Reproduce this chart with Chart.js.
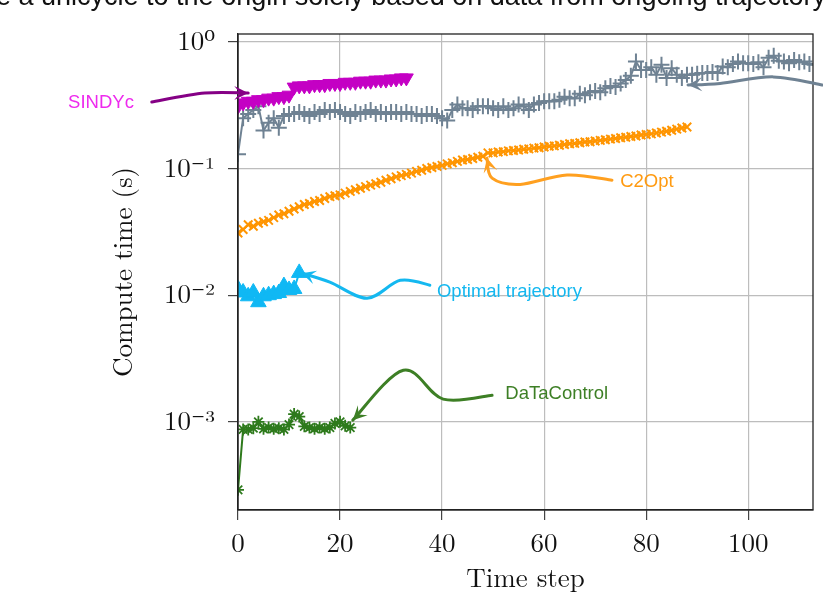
<!DOCTYPE html>
<html lang="en">
<head>
<meta charset="UTF-8">
<title>Compute time per time step</title>
<script src="https://cdn.jsdelivr.net/npm/chart.js"></script>
<style>
  html, body { margin: 0; padding: 0; background: #fff; }
  #wrap { position: relative; width: 823px; height: 595px; overflow: hidden; }
</style>
<script>
// compute time (s) per time step, one value per step starting at 0
const sindycTime = [0.31, 0.33, 0.34, 0.34, 0.35, 0.35, 0.36, 0.36, 0.37, 0.37, 0.38,
  0.44, 0.45, 0.45, 0.45, 0.46, 0.46, 0.46, 0.47, 0.47, 0.47, 0.48, 0.48, 0.48,
  0.49, 0.49, 0.49, 0.50, 0.50, 0.50, 0.51, 0.51, 0.52, 0.52];

const otherTime = [0.13, 0.25, 0.27, 0.29, 0.31, 0.20, 0.23, 0.25, 0.21, 0.26,
  0.27, 0.27, 0.28, 0.27, 0.26, 0.28, 0.27, 0.29, 0.28, 0.29,
  0.28, 0.27, 0.26, 0.28, 0.27, 0.28, 0.29, 0.27, 0.28, 0.27,
  0.28, 0.28, 0.27, 0.28, 0.27, 0.27, 0.26, 0.27, 0.27, 0.26,
  0.25, 0.24, 0.29, 0.32, 0.30, 0.30, 0.29, 0.31, 0.31, 0.31,
  0.30, 0.29, 0.31, 0.29, 0.30, 0.32, 0.31, 0.29, 0.32, 0.33,
  0.34, 0.34, 0.34, 0.35, 0.37, 0.36, 0.36, 0.39, 0.38, 0.40,
  0.41, 0.40, 0.43, 0.45, 0.44, 0.47, 0.50, 0.54, 0.70, 0.60,
  0.60, 0.63, 0.55, 0.66, 0.52, 0.62, 0.55, 0.52, 0.55, 0.55,
  0.56, 0.57, 0.57, 0.58, 0.57, 0.64, 0.63, 0.67, 0.70, 0.68,
  0.68, 0.67, 0.69, 0.63, 0.75, 0.78, 0.71, 0.70, 0.68, 0.72,
  0.69, 0.70, 0.67, 0.66];

const c2optTime = [0.031, 0.033, 0.036, 0.035, 0.037, 0.038, 0.039, 0.041, 0.043, 0.044,
  0.046, 0.048, 0.050, 0.052, 0.053, 0.055, 0.056, 0.058, 0.060, 0.061,
  0.062, 0.064, 0.066, 0.068, 0.070, 0.072, 0.074, 0.076, 0.078, 0.081,
  0.083, 0.086, 0.088, 0.090, 0.092, 0.095, 0.097, 0.100, 0.102, 0.104,
  0.106, 0.109, 0.111, 0.114, 0.117, 0.118, 0.120, 0.123, 0.125, 0.133,
  0.133, 0.135, 0.136, 0.138, 0.139, 0.140, 0.142, 0.143, 0.145, 0.146,
  0.148, 0.150, 0.151, 0.153, 0.155, 0.157, 0.158, 0.160, 0.162, 0.163,
  0.165, 0.167, 0.169, 0.171, 0.173, 0.175, 0.177, 0.179, 0.181, 0.184,
  0.186, 0.188, 0.191, 0.194, 0.197, 0.201, 0.205, 0.209, 0.213];

const optimalTime = [0.0112, 0.0105, 0.0098, 0.0105, 0.0088, 0.0098, 0.0100, 0.0102,
  0.0104, 0.0118, 0.0110, 0.0112, 0.0150];

const datacontrolTime = [0.00029, 0.00087, 0.00087, 0.00089, 0.00100, 0.00088, 0.00090,
  0.00088, 0.00089, 0.00087, 0.00095, 0.00115, 0.00110, 0.00092, 0.00090, 0.00088,
  0.00090, 0.00088, 0.00090, 0.00097, 0.00100, 0.00093, 0.00090];

const yTicks = [0.001, 0.01, 0.1, 1];
const yTickLabels = ['10\u207B\u00B3', '10\u207B\u00B2', '10\u207B\u00B9', '10\u2070'];
const xTicks = [0, 20, 40, 60, 80, 100];

const captionText = 'e a unicycle to the origin solely based on data from ongoing trajectory,';

// curved arrows pointing at the series, path points in data coordinates (x, seconds)
const callouts = [
  { text: 'SINDYc', color: '#ee2aee', line: '#850085', at: [-33.3, 0.33],
    path: [[-16.9, 0.336], [-6.5, 0.395], [2.0, 0.395]] },
  { text: null, color: '#6f8293', line: '#6f8293', at: null,
    path: [[114.5, 0.457], [104.9, 0.53], [94.5, 0.47], [88.2, 0.457]] },
  { text: 'C2Opt', color: '#ff9a10', line: '#ffa020', at: [74.9, 0.078],
    path: [[73.3, 0.081], [64.5, 0.089], [55.3, 0.075], [49.8, 0.084], [48.8, 0.121]] },
  { text: 'Optimal trajectory', color: '#14b8f0', line: '#14b8f0', at: [39.0, 0.01056],
    path: [[37.6, 0.0120], [31.8, 0.0131], [25.3, 0.00946], [18.0, 0.0127], [12.5, 0.0149]] },
  { text: 'DaTaControl', color: '#3d7f25', line: '#3d7f25', at: [52.4, 0.00165],
    path: [[49.8, 0.00162], [40.2, 0.00151], [32.4, 0.00255], [22.5, 0.00103]] }
];

function toPoints(values) {
  return values.map((v, i) => ({ x: i, y: v }));
}

function smoothPath(ctx, pts) {
  ctx.beginPath();
  ctx.moveTo(pts[0].x, pts[0].y);
  let last = pts[0];
  for (let i = 0; i < pts.length - 1; i++) {
    const p0 = pts[i - 1] || pts[i], p1 = pts[i], p2 = pts[i + 1], p3 = pts[i + 2] || pts[i + 1];
    const c1 = { x: p1.x + (p2.x - p0.x) / 6, y: p1.y + (p2.y - p0.y) / 6 };
    const c2 = { x: p2.x - (p3.x - p1.x) / 6, y: p2.y - (p3.y - p1.y) / 6 };
    ctx.bezierCurveTo(c1.x, c1.y, c2.x, c2.y, p2.x, p2.y);
    last = c2;
  }
  ctx.stroke();
  return last;
}

function arrowHead(ctx, from, tip) {
  const a = Math.atan2(tip.y - from.y, tip.x - from.x);
  const len = 14, half = 7, notch = 8;
  ctx.save();
  ctx.translate(tip.x, tip.y);
  ctx.rotate(a);
  ctx.beginPath();
  ctx.moveTo(0, 0);
  ctx.lineTo(-len, -half);
  ctx.lineTo(-notch, 0);
  ctx.lineTo(-len, half);
  ctx.closePath();
  ctx.fill();
  ctx.restore();
}

const framePlugin = {
  id: 'frame',
  afterDraw(chart) {
    const { ctx, chartArea: a, scales } = chart;
    ctx.save();
    ctx.strokeStyle = '#222';
    ctx.lineWidth = 1.3;
    ctx.strokeRect(a.left, a.top, a.right - a.left, a.bottom - a.top);

    // callouts
    callouts.forEach(c => {
      const pts = c.path.map(p => ({ x: scales.x.getPixelForValue(p[0]), y: scales.y.getPixelForValue(p[1]) }));
      ctx.strokeStyle = c.line;
      ctx.fillStyle = c.line;
      ctx.lineWidth = 3;
      ctx.lineCap = 'round';
      const ctrl = smoothPath(ctx, pts);
      arrowHead(ctx, ctrl, pts[pts.length - 1]);
      if (c.text) {
        ctx.fillStyle = c.color;
        ctx.font = '18.5px "Liberation Sans", Arial, sans-serif';
        ctx.textAlign = 'left';
        ctx.textBaseline = 'middle';
        ctx.fillText(c.text, scales.x.getPixelForValue(c.at[0]), scales.y.getPixelForValue(c.at[1]));
      }
    });

    // cropped caption line at the very top
    ctx.fillStyle = '#111';
    ctx.font = '27px "Liberation Sans", Arial, sans-serif';
    ctx.textAlign = 'left';
    ctx.textBaseline = 'alphabetic';
    ctx.fillText(captionText, -4, 5);
    ctx.restore();
  }
};

function createChart() {
  const serif = '"Latin Modern Roman", "DejaVu Serif", "Liberation Serif", serif';
  const ctx = document.getElementById('myChart').getContext('2d');
  new Chart(ctx, {
    type: 'line',
    data: {
      datasets: [
        {
          label: 'SINDYc',
          data: toPoints(sindycTime),
          borderColor: '#c400c4',
          backgroundColor: '#c400c4',
          borderWidth: 2,
          pointStyle: 'triangle',
          rotation: 180,
          pointRadius: 8,
          pointBorderWidth: 1
        },
        {
          label: 'other',
          data: toPoints(otherTime),
          borderColor: '#6f8293',
          backgroundColor: '#6f8293',
          borderWidth: 2,
          pointStyle: 'cross',
          pointRadius: 8,
          pointBorderWidth: 2
        },
        {
          label: 'C2Opt',
          data: toPoints(c2optTime),
          borderColor: '#ff9500',
          backgroundColor: '#ff9500',
          borderWidth: 2,
          pointStyle: 'crossRot',
          pointRadius: 6,
          pointBorderWidth: 2
        },
        {
          label: 'Optimal trajectory',
          data: toPoints(optimalTime),
          borderColor: '#10b8f4',
          backgroundColor: '#10b8f4',
          borderWidth: 2,
          pointStyle: 'triangle',
          pointRadius: 9,
          pointBorderWidth: 1
        },
        {
          label: 'DaTaControl',
          data: toPoints(datacontrolTime),
          borderColor: '#2e7a1c',
          backgroundColor: '#2e7a1c',
          borderWidth: 2,
          pointStyle: 'star',
          pointRadius: 6,
          pointBorderWidth: 1.8
        }
      ]
    },
    options: {
      responsive: false,
      animation: false,
      layout: { padding: { left: 0, right: 10, top: 34, bottom: 0 } },
      plugins: { legend: { display: false }, tooltip: { enabled: false } },
      scales: {
        x: {
          type: 'linear',
          min: 0,
          max: 112.7,
          afterFit: s => { s.height = 85; },
          afterBuildTicks: s => { s.ticks = xTicks.map(v => ({ value: v })); },
          ticks: {
            includeBounds: false,
            color: '#111',
            font: { family: serif, size: 27 },
            padding: 8,
            maxRotation: 0
          },
          grid: { color: '#bdbdbd', lineWidth: 1.2, tickLength: 10, tickColor: '#444' },
          border: { color: '#222', width: 1.3 },
          title: {
            display: true,
            text: 'Time step',
            color: '#111',
            font: { family: serif, size: 27 },
            padding: { top: 0, bottom: 0 }
          }
        },
        y: {
          type: 'logarithmic',
          min: 0.000201,
          max: 1.156,
          afterFit: s => { s.width = 238; },
          afterBuildTicks: s => { s.ticks = yTicks.map(v => ({ value: v })); },
          ticks: {
            color: '#111',
            font: { family: serif, size: 27 },
            padding: 13,
            callback: v => yTickLabels[yTicks.indexOf(v)]
          },
          grid: { color: '#bdbdbd', lineWidth: 1.2, tickLength: 10, tickColor: '#444' },
          border: { color: '#222', width: 1.3 },
          title: {
            display: true,
            text: 'Compute time (s)',
            color: '#111',
            font: { family: serif, size: 27 },
            padding: { top: 108, bottom: 0 }
          }
        }
      }
    },
    plugins: [framePlugin]
  });
}

document.addEventListener('DOMContentLoaded', createChart);
</script>
</head>
<body>
  <div id="wrap">
    <canvas id="myChart" width="823" height="595"></canvas>
  </div>
</body>
</html>
